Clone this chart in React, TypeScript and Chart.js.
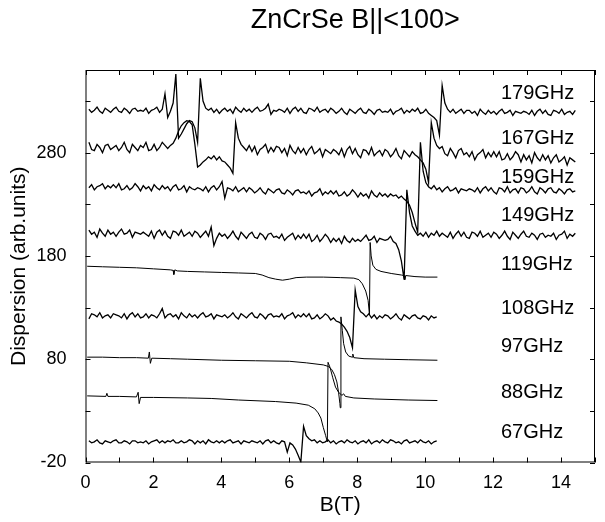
import React, { useEffect, useRef } from "react";
import { Chart, registerables } from "chart.js";

Chart.register(...registerables);

type P = [number, number];

const chartTitle = "ZnCrSe B||<100>";
const xTitle = "B(T)";
const yTitle = "Dispersion (arb.units)";

const xTickValues = [0, 1, 2, 3, 4, 5, 6, 7, 8, 9, 10, 11, 12, 13, 14, 15];
const xTickLabels = [0, 2, 4, 6, 8, 10, 12, 14];
const yTickValues = [-20, 30, 80, 130, 180, 230, 280, 330];
const yTickLabels = [-20, 80, 180, 280];

const freqLabels = ["179GHz", "167GHz", "159GHz", "149GHz", "119GHz", "108GHz", "97GHz", "88GHz", "67GHz"];
const freqLabelB = 12.23;
const freqLabelValue = [337, 294, 256, 219, 172, 129.5, 92, 48, 9.5];

// noisy traces: values sampled on a field grid B = 0.1, 0.18, 0.26, ... (step 0.08 T)
const gridStart = 0.1;
const gridStep = 0.08;

const v179 = [
  322,319,321,324,320,318,323,321,319,322,
  324,320,319,323,321,318,322,323,320,321,
  320,323,318,321,322,324,319,322,337,314,
  320,328,356,294,298,303,308,311,310,304,
  290,352,330,323,321,323,319,322,318,321,
  323,320,322,318,324,321,319,323,320,322,
  319,322,324,320,321,323,327,317,321,320,
  322,321,319,323,318,322,324,320,323,319,
  318,323,322,320,324,319,321,322,319,323,
  321,318,320,323,319,317,322,320,318,321,
  323,319,318,322,320,317,321,322,319,320,
  319,322,317,320,321,323,318,321,319,322,
  320,323,318,319,322,318,316,314,311,297,
  345,328,322,319,322,318,320,322,318,321,
  321,318,320,316,322,319,317,321,318,320,
  317,320,322,318,319,321,316,320,319,318,
  320,319,317,321,316,320,322,318,321,317,
  316,321,320,318,322,317,319,320,317,321,
];

const v167 = [
  290,283,282,288,285,280,287,288,283,285,
  287,282,285,290,283,280,288,285,282,287,
  285,290,282,283,288,282,285,290,287,284,
  287,289,294,301,306,309,311,310,307,288,
  266,268,271,273,276,274,277,273,276,272,
  271,268,265,260,309,294,288,285,282,287,
  281,286,278,283,285,288,280,285,281,286,
  285,280,284,277,287,282,279,285,280,284,
  278,283,286,279,281,284,276,283,281,279,
  283,281,278,284,276,283,286,279,284,278,
  275,283,282,278,285,277,280,282,277,283,
  281,276,279,284,277,274,282,279,276,281,
  278,276,273,270,264,251,309,294,287,284,
  286,279,277,284,280,275,282,284,278,280,
  276,281,273,278,280,283,275,280,276,281,
  276,281,273,274,279,273,276,281,278,271,
  278,273,277,270,280,275,272,278,273,277,
  270,275,278,271,273,276,268,275,273,271,
];

const v159 = [
  246,249,244,247,248,250,245,248,246,249,
  246,250,244,245,248,244,246,250,247,243,
  248,245,247,243,249,246,244,248,245,247,
  243,247,249,244,245,248,242,247,245,244,
  246,245,243,247,242,246,248,244,247,252,
  236,246,245,243,247,242,244,246,242,246,
  244,241,243,246,242,240,245,243,241,244,
  245,241,240,244,242,239,243,244,241,242,
  240,243,238,241,242,245,239,242,240,243,
  240,243,238,239,242,238,240,244,241,237,
  241,238,240,236,243,239,237,241,238,240,
  237,240,238,239,236,238,235,233,229,222,
  212,203,290,262,251,247,245,248,244,246,
  242,245,247,243,244,246,241,245,244,243,
  245,244,242,246,241,245,247,243,246,242,
  240,246,245,242,247,241,244,245,241,246,
  245,241,243,247,242,240,246,244,241,245,
  246,242,241,245,243,240,244,245,242,243,
];

const v149 = [
  205,201,203,198,206,202,199,205,201,203,
  199,203,206,201,202,205,198,203,202,201,
  203,201,199,204,197,203,205,200,204,199,
  197,204,203,200,205,199,201,203,199,204,
  202,198,201,204,199,208,190,197,202,199,
  201,197,200,204,199,196,203,200,197,201,
  203,198,197,202,200,196,201,202,198,199,
  197,201,195,198,200,202,196,200,197,201,
  197,201,194,196,200,194,197,201,198,193,
  197,194,197,192,199,195,193,197,194,196,
  194,197,200,195,196,199,193,197,196,195,
  196,199,194,192,186,175,157,244,222,209,
  204,200,202,199,203,198,202,200,204,199,
  202,200,198,203,197,201,204,199,203,198,
  197,203,202,199,204,198,200,202,198,203,
  201,197,200,204,199,196,203,200,197,201,
  204,199,198,202,200,196,201,202,198,200,
  199,202,196,200,201,204,197,201,199,202,
];

const v108 = [
  119,124,123,121,125,120,122,123,120,124,
  123,122,120,124,119,123,125,121,124,120,
  121,124,120,123,122,120,124,129,120,123,
  124,121,123,119,125,122,120,124,121,123,
  120,123,125,121,122,124,119,123,122,121,
  123,120,122,125,121,119,124,122,120,123,
  125,121,120,124,122,119,123,124,121,122,
  121,124,119,122,123,125,120,123,121,124,
  121,124,119,120,123,119,121,124,122,118,
  120,117,116,114,111,107,101,91,147,131,
  126,124,121,124,120,123,119,122,120,123,
  122,119,121,124,120,118,123,121,119,122,
  123,120,119,122,121,118,122,120,121,
];

const v67 = [
  1,-1,0,2,-1,-2,1,0,-1,1,
  2,-1,-1,1,0,-2,1,1,-1,0,
  -1,1,-2,0,1,2,-1,1,-1,1,
  0,2,-1,-1,1,-1,0,2,1,-2,
  1,-1,1,-2,2,0,-1,1,-1,1,
  -1,1,2,-1,0,1,-2,1,0,-1,
  1,0,-1,1,-2,1,2,-1,1,-1,
  -2,1,0,-10,-1,-3,-7,-13,-19.5,15,
  6,3,1,2,-1,1,-1,0,2,-1,
  1,-2,0,1,-1,2,0,-1,1,-2,
  0,1,-1,2,-2,0,1,-1,2,0,
  -1,2,1,-1,0,-2,1,2,-1,0,
  1,-1,2,0,-1,1,-2,0,1,
];

// smooth traces: [B, value] pairs
const t119: P[] = [[0.05,170],[0.5,169.5],[1.0,169],[1.5,168.5],[2.0,167.5],[2.5,166.5],[2.58,166],[2.6,162],[2.63,166.5],[2.7,165.5],[3.0,165],[3.5,164.5],[4.0,164],[4.5,163.5],[5.0,163],[5.2,161.5],[5.4,159],[5.6,157.5],[5.8,156.5],[6.0,157.5],[6.2,159],[6.5,159.5],[7.0,159.5],[7.5,159],[7.9,158.5],[8.05,157],[8.15,153],[8.25,146],[8.32,137],[8.36,123],[8.38,193],[8.41,180],[8.46,171],[8.55,167],[8.7,165],[9.0,163],[9.3,161.5],[9.38,161],[9.4,157],[9.43,161],[9.7,160],[10.0,159.5],[10.36,159.5]];

const t97: P[] = [[0.05,82],[0.5,82],[1.0,81.5],[1.5,81.5],[1.85,81],[1.88,87],[1.91,76],[1.95,81],[2.5,80.5],[3.0,80],[4.0,79],[5.0,78.5],[6.0,78],[6.5,76.5],[7.0,74.5],[7.15,73],[7.25,70],[7.33,65],[7.4,58],[7.45,48],[7.49,37],[7.5,33],[7.52,121],[7.56,108],[7.6,95],[7.66,87],[7.75,83],[7.85,82],[7.87,85],[7.9,81.5],[8.2,80.5],[8.8,80],[9.5,79.5],[10.36,79]];

const t88: P[] = [[0.05,44.5],[0.6,44],[0.63,47],[0.66,44],[1.0,44],[1.5,43.5],[1.55,48],[1.58,37],[1.62,43],[2.0,43],[3.0,42.5],[3.7,42],[4.5,40.5],[5.6,39],[6.2,37.5],[6.56,35.5],[6.75,32],[6.85,28],[6.93,23],[7.0,14],[7.07,6],[7.12,0],[7.14,77],[7.2,72],[7.28,62],[7.36,53],[7.45,48],[7.55,45],[7.6,46.5],[7.65,44],[7.9,42.5],[8.5,41.5],[9.5,40.5],[10.36,40]];

const gridSeries = [v179, v167, v159, v149, v108, v67];
const pairSeries = [t119, t97, t88];

const FONT = "'Liberation Sans', Arial, Helvetica, sans-serif";

const framePlugin = {
  id: "frame",
  afterDraw(chart: any) {
    const { ctx, chartArea: a, scales } = chart;
    const xs = scales.x;
    const ys = scales.y;
    ctx.save();
    ctx.strokeStyle = "#000";
    ctx.lineWidth = 1;
    ctx.strokeRect(a.left + 0.5, a.top + 0.5, a.right - a.left - 1, a.bottom - a.top - 1);
    ctx.beginPath();
    for (const v of xTickValues) {
      const px = Math.round(xs.getPixelForValue(v)) + 0.5;
      ctx.moveTo(px, a.bottom);
      ctx.lineTo(px, a.bottom - 5);
      ctx.moveTo(px, a.top);
      ctx.lineTo(px, a.top + 5);
    }
    for (const v of yTickValues) {
      const py = Math.round(ys.getPixelForValue(v)) + 0.5;
      ctx.moveTo(a.left, py);
      ctx.lineTo(a.left + 5, py);
      ctx.moveTo(a.right, py);
      ctx.lineTo(a.right - 5, py);
    }
    ctx.stroke();

    ctx.fillStyle = "#000";
    ctx.textBaseline = "middle";
    ctx.textAlign = "left";
    ctx.font = `20px ${FONT}`;
    freqLabels.forEach((t, i) => {
      ctx.fillText(t, xs.getPixelForValue(freqLabelB), ys.getPixelForValue(freqLabelValue[i]));
    });

    ctx.textAlign = "center";
    ctx.font = `27px ${FONT}`;
    ctx.fillText(chartTitle, (a.left + a.right) / 2 + 15, 13);

    ctx.font = `21px ${FONT}`;
    ctx.fillText(xTitle, (a.left + a.right) / 2, 497);

    ctx.save();
    ctx.translate(11, (a.top + a.bottom) / 2);
    ctx.rotate(-Math.PI / 2);
    ctx.fillText(yTitle, 0, 0);
    ctx.restore();

    ctx.restore();
  },
};

const lineStyle = {
  borderColor: "#000",
  pointRadius: 0,
  tension: 0,
  fill: false,
};

export default function App() {
  const ref = useRef<HTMLCanvasElement | null>(null);
  useEffect(() => {
    if (!ref.current) return;
    const datasets = [
      ...gridSeries.map((vals) => ({
        ...lineStyle,
        borderWidth: 1.3,
        data: vals.map((y, i) => ({ x: gridStart + i * gridStep, y })),
      })),
      ...pairSeries.map((t) => ({
        ...lineStyle,
        borderWidth: 1,
        data: t.map(([x, y]) => ({ x, y })),
      })),
    ];
    const chart = new Chart(ref.current, {
      type: "line",
      data: { datasets },
      options: {
        animation: false,
        responsive: false,
        devicePixelRatio: 1,
        layout: { padding: { top: 62, right: 0, left: 0, bottom: 0 } },
        plugins: { legend: { display: false }, tooltip: { enabled: false }, title: { display: false } },
        scales: {
          x: {
            type: "linear",
            min: 0,
            max: 15,
            grid: { display: false, drawTicks: false },
            border: { display: false },
            afterBuildTicks: (s: any) => {
              s.ticks = xTickValues.map((v) => ({ value: v }));
            },
            afterFit: (s: any) => {
              s.height = 59.5;
            },
            ticks: {
              autoSkip: false,
              maxRotation: 0,
              padding: 10,
              color: "#000",
              font: { family: FONT, size: 18 },
              callback: (v: any) => (xTickLabels.includes(Number(v)) ? String(v) : ""),
            },
          },
          y: {
            type: "linear",
            min: -20,
            max: 360,
            grid: { display: false, drawTicks: false },
            border: { display: false },
            afterBuildTicks: (s: any) => {
              s.ticks = yTickValues.map((v) => ({ value: v }));
            },
            afterFit: (s: any) => {
              s.width = 77.5;
            },
            ticks: {
              autoSkip: false,
              padding: 19,
              color: "#000",
              font: { family: FONT, size: 18 },
              callback: (v: any) => (yTickLabels.includes(Number(v)) ? String(v) : ""),
            },
          },
        },
      },
      plugins: [framePlugin],
    });
    return () => chart.destroy();
  }, []);
  return <canvas ref={ref} width={597} height={514} style={{ display: "block", width: 597, height: 514 }} />;
}
